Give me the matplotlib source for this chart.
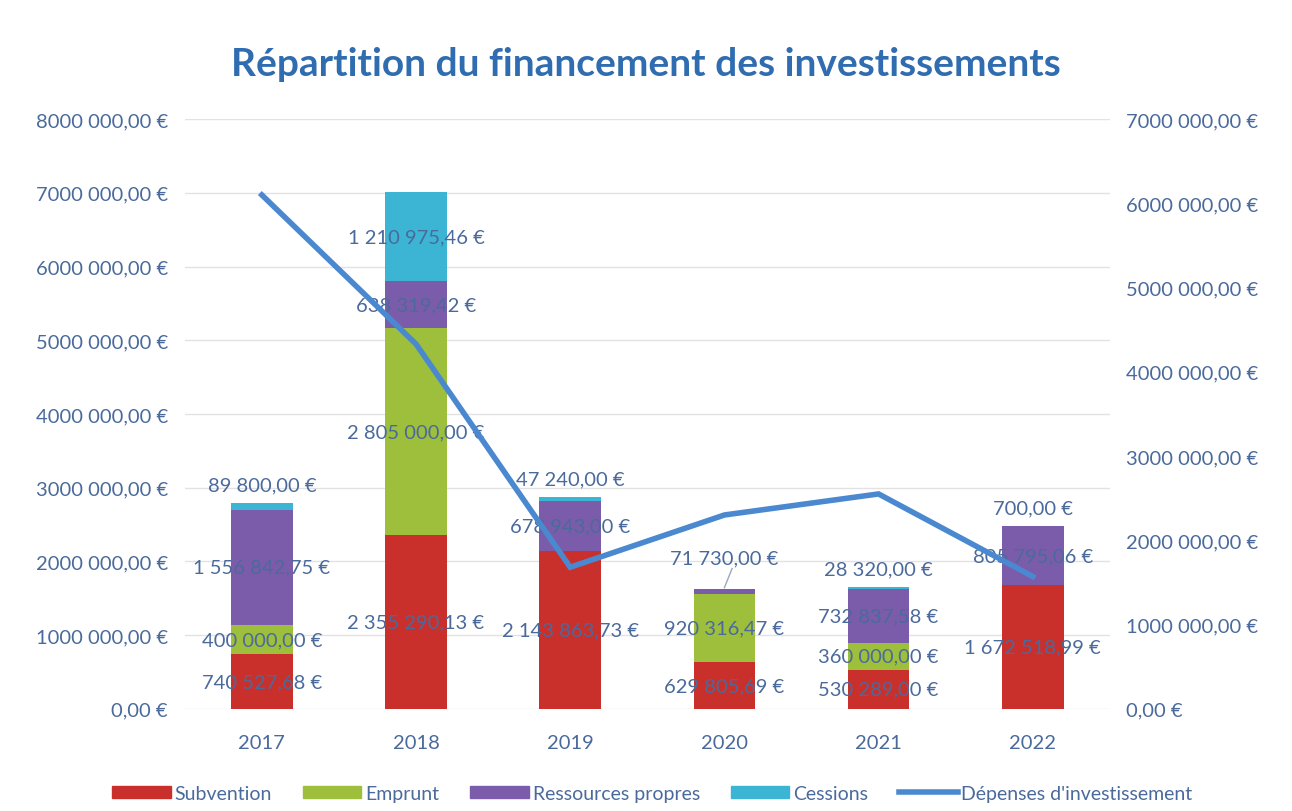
import numpy as np
import matplotlib.pyplot as plt
from matplotlib.patches import Patch
from matplotlib.lines import Line2D

annees = ['2017', '2018', '2019', '2020', '2021', '2022']
subvention = [740527.68, 2355290.13, 2143863.73, 629805.69, 530289.00, 1672518.99]
emprunt = [400000.00, 2805000.00, 0, 920316.47, 360000.00, 0]
ressources = [1556842.75, 638319.42, 678943.00, 71730.00, 732837.58, 805795.06]
cessions = [89800.00, 1210975.46, 47240.00, 0, 28320.00, 700.00]
depenses = [6100000, 4330000, 1680000, 2300000, 2550000, 1570000]

gauche_ticks = ['0,00 €', '1000 000,00 €', '2000 000,00 €', '3000 000,00 €', '4000 000,00 €',
                '5000 000,00 €', '6000 000,00 €', '7000 000,00 €', '8000 000,00 €']
droite_ticks = ['0,00 €', '1000 000,00 €', '2000 000,00 €', '3000 000,00 €',
                '4000 000,00 €', '5000 000,00 €', '6000 000,00 €', '7000 000,00 €']

plt.rcParams['font.family'] = ['Lato', 'DejaVu Sans']
texte = '#4a6a9c'
couleurs = ['#c9302c', '#9dbf3c', '#7b5caa', '#3cb5d5']
noms = ['Subvention', 'Emprunt', 'Ressources propres', 'Cessions']
series = [subvention, emprunt, ressources, cessions]


def fmt(v):
    s = f'{v:,.2f}'.replace(',', ' ').replace('.', ',')
    return s + ' €'


fig = plt.figure(figsize=(12.92, 8.12), dpi=100)
ax = fig.add_axes([0.143, 0.126, 0.716, 0.726])
ax2 = ax.twinx()

x = np.arange(len(annees))
bas = np.zeros(len(annees))
for vals, c in zip(series, couleurs):
    vals = np.array(vals, dtype=float)
    ax.bar(x, vals, 0.4, bottom=bas, color=c, zorder=2)
    bas += vals

totaux = bas.copy()
bas = np.zeros(len(annees))
for vals in series:
    for i, v in enumerate(vals):
        if v <= 0:
            continue
        if v < 100000:
            y = totaux[i] + 250000
            if i == 3:
                y = totaux[i] + 420000
                ax.plot([i, i + 0.05], [totaux[i] + 20000, y - 140000], color='#9aa8c0', lw=1, zorder=3)
        else:
            y = bas[i] + v / 2
        ax.text(i, y, fmt(v), ha='center', va='center', fontsize=14.5, color=texte, zorder=5)
    bas += np.array(vals, dtype=float)

ax2.plot(x, depenses, color='#4a89d0', lw=4, zorder=4, solid_joinstyle='miter')

ax.set_xlim(-0.5, 5.5)
ax.set_ylim(0, 8000000)
ax2.set_ylim(0, 7000000)
ax.set_yticks(np.arange(0, 8000001, 1000000))
ax.set_yticklabels(gauche_ticks)
ax2.set_yticks(np.arange(0, 7000001, 1000000))
ax2.set_yticklabels(droite_ticks)
ax.set_xticks(x)
ax.set_xticklabels(annees)
ax.grid(axis='y', color='#e2e2e2', lw=1, zorder=0)
ax.set_axisbelow(True)

for a in (ax, ax2):
    for s in a.spines.values():
        s.set_visible(False)
    a.tick_params(length=0, labelsize=14.5, labelcolor=texte)
ax.tick_params(axis='y', pad=12)
ax2.tick_params(axis='y', pad=12)
ax.tick_params(axis='x', pad=18)
# line above the bars
ax2.set_zorder(3)
ax.set_zorder(2)
ax.patch.set_visible(False)

fig.text(0.5, 0.92, 'Répartition du financement des investissements', ha='center', va='center',
         fontsize=28, fontweight='bold', color='#2f6cb0')

handles = [Patch(color=c) for c in couleurs]
handles.append(Line2D([0], [0], color='#4a89d0', lw=4))
fig.legend(handles, noms + ["Dépenses d'investissement"], loc='center', bbox_to_anchor=(0.505, 0.022),
           ncol=5, frameon=False, fontsize=14, labelcolor=texte, handlelength=3.0, handleheight=0.55,
           columnspacing=1.6, handletextpad=0.2)

fig.savefig('out.png', dpi=100, facecolor='white')
